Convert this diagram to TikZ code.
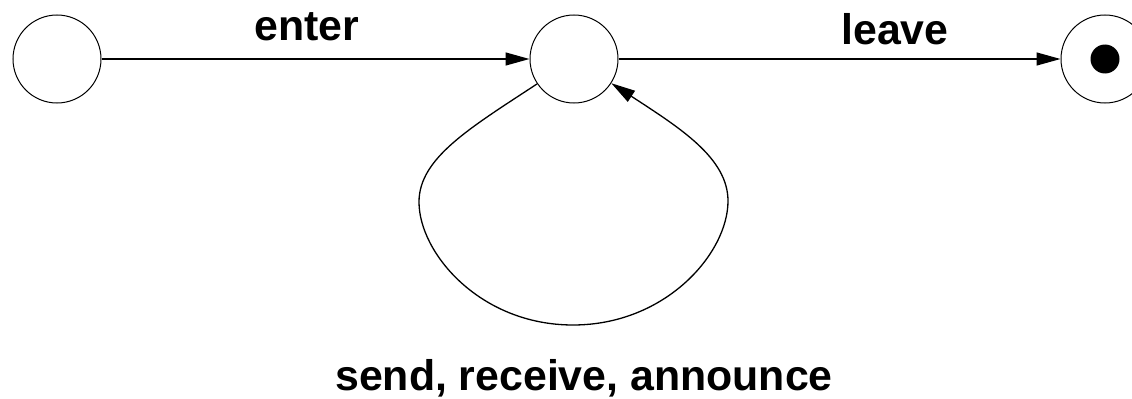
\documentclass[tikz,border=0pt]{standalone}
\usepackage{fontspec}
\setmainfont{Liberation Sans}
\usetikzlibrary{arrows.meta}
\begin{document}
\begin{tikzpicture}[x=1bp,y=1bp,
  state/.style={circle,draw,line width=1bp,minimum size=88bp,inner sep=0pt},
  edge/.style={line width=1.3bp,-{Triangle[length=24bp,width=13bp]}},
  lbl/.style={font=\fontsize{43}{50}\selectfont\bfseries,anchor=base,inner sep=0pt}]
\useasboundingbox (0,0) rectangle (1132,398);
\node[state] (s) at (57,339) {};
\node[state] (m) at (574,339) {};
\node[state] (f) at (1105,339) {};
\fill (f.center) circle (14.5bp);
\coordinate (lp) at (419,196);
\coordinate (bp) at (573,73);
\coordinate (rp) at (728,197);
\draw[edge] (m.214) .. controls (470,270) and (419,240) .. (lp)
  .. controls (419,145) and (480,73) .. (bp)
  .. controls (666,73) and (728,145) .. (rp)
  .. controls (728,240) and (680,270) .. (m.-33);
\draw[edge] (s) -- (m);
\draw[edge] (m) -- (f);
\node[lbl] (le) at (307,358) {enter};
\node[lbl] (ll) at (895,354) {leave};
\node[lbl] (lb) at (584,8) {send, receive, announce};
\end{tikzpicture}
\end{document}
